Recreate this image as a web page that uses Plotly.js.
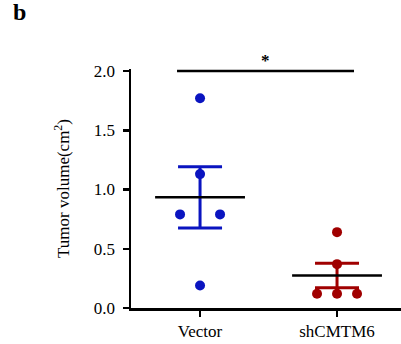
<!DOCTYPE html>
<html><head><meta charset="utf-8">
<script src="https://cdn.plot.ly/plotly-3.0.1.min.js"></script>
<style>html,body{margin:0;padding:0;background:#fff}#c{width:401px;height:344px}</style>
</head><body><div id="c"></div>
<script>
const categories = ['Vector', 'shCMTM6'];
const vectorValues = [1.77, 1.13, 0.79, 0.79, 0.19];
const shValues = [0.64, 0.37, 0.12, 0.12, 0.12];
const vectorJitter = [0, 0, -0.146, 0.146, 0];
const shJitter = [0, 0, -0.146, 0, 0.146];
const colors = ['#0a14c0', '#a00000'];
const yTicks = [0, 0.5, 1.0, 1.5, 2.0];
const yTickLabels = ['0.0', '0.5', '1.0', '1.5', '2.0'];
const sigLabel = '*';
const sigSpan = [-0.168, 1.124];
const sigLevel = 2.0;

const FONT = 'Liberation Serif';
const groups = [vectorValues, shValues];
const jitters = [vectorJitter, shJitter];
function mean(a){return a.reduce((s,v)=>s+v,0)/a.length;}
function sem(a){const m=mean(a);const v=a.reduce((s,x)=>s+(x-m)*(x-m),0)/(a.length-1);return Math.sqrt(v/a.length);}

const traces = [];
groups.forEach((g, i) => {
  const m = mean(g), e = sem(g);
  traces.push({x:[i], y:[m], type:'scatter', mode:'markers', marker:{size:1, color:'rgba(0,0,0,0)'},
    error_y:{type:'data', array:[e], visible:true, color:colors[i], thickness:3, width:22}, hoverinfo:'skip', showlegend:false});
  traces.push({x:[i-0.328, i+0.328], y:[m, m], type:'scatter', mode:'lines', line:{color:'#000', width:2.5}, showlegend:false});
  traces.push({x:g.map((v,k)=>i+jitters[i][k]), y:g, type:'scatter', mode:'markers',
    marker:{size:10, color:colors[i]}, showlegend:false, cliponaxis:false});
});
traces.push({x:sigSpan, y:[sigLevel, sigLevel], type:'scatter', mode:'lines', line:{color:'#000', width:2.5}, showlegend:false});

const layout = {
  width:401, height:344,
  margin:{l:131, r:0, t:69, b:36},
  paper_bgcolor:'#fff', plot_bgcolor:'#fff',
  font:{family:FONT, color:'#000', size:17},
  title:{text:'<b>b</b>', font:{size:24, family:FONT, color:'#000'}, x:13/401, xanchor:'left', xref:'container', y:1-3/344, yanchor:'top', yref:'container'},
  xaxis:{range:[-0.504, 1.467], tickvals:[0,1], ticktext:categories, showline:true, linecolor:'#000', linewidth:2.5,
    ticks:'outside', ticklen:6, tickwidth:2.5, tickcolor:'#000', showgrid:false, zeroline:false, fixedrange:true,
    tickfont:{size:17, family:FONT, color:'#000'}},
  yaxis:{range:[0,2.017], tickvals:yTicks, ticktext:yTickLabels, showline:true, linecolor:'#000', linewidth:2.5,
    ticks:'outside', ticklen:6, tickwidth:2.5, tickcolor:'#000', showgrid:false, zeroline:false, ticklabelstandoff:4,
    tickfont:{size:17, family:FONT, color:'#000'}, title:{text:'Tumor volume(cm<sup>2</sup>)', font:{size:17, family:FONT, color:'#000'}, standoff:20}},
  annotations:[{x:(sigSpan[0]+sigSpan[1])/2, y:sigLevel, xref:'x', yref:'y', text:'<b>'+sigLabel+'</b>', showarrow:false, yanchor:'bottom', yshift:-1, font:{size:17, family:FONT, color:'#000'}}]
};
Plotly.newPlot('c', traces, layout, {displayModeBar:false, staticPlot:true});
</script></body></html>
